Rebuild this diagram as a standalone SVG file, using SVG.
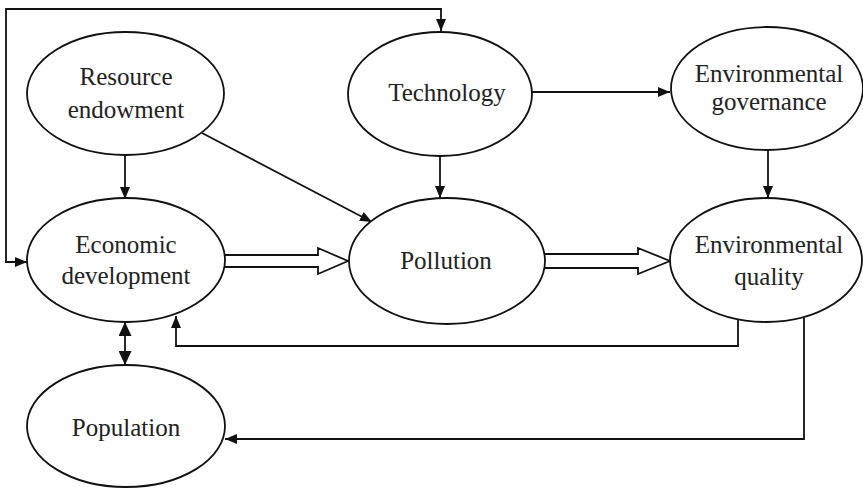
<svg xmlns="http://www.w3.org/2000/svg" width="863" height="488" viewBox="0 0 863 488">
<style>
  .node ellipse { fill: #ffffff; stroke: #111111; stroke-width: 1.8; }
  .node text { font-family: "Liberation Serif", "Times New Roman", serif; font-size: 25px; fill: #222222; text-anchor: middle; }
  .conn { fill: none; stroke: #111111; stroke-width: 1.8; }
  .arr { marker-end: url(#ah); }
  .bi { marker-start: url(#ah); marker-end: url(#ah); }
  .bibig { marker-start: url(#ahb); marker-end: url(#ahb); }
  .hollow { fill: #ffffff; stroke: #111111; stroke-width: 1.8; stroke-linejoin: miter; }
</style>
<defs>
  <marker id="ah" viewBox="0 0 12 10" refX="12" refY="5" markerWidth="12" markerHeight="10" markerUnits="userSpaceOnUse" orient="auto-start-reverse">
    <path d="M0,0 L12,5 L0,10 Z" fill="#111111"/>
  </marker>
  <marker id="ahb" viewBox="0 0 14 13" refX="14" refY="6.5" markerWidth="14" markerHeight="13" markerUnits="userSpaceOnUse" orient="auto-start-reverse">
    <path d="M0,0 L14,6.5 L0,13 Z" fill="#111111"/>
  </marker>
</defs>
<rect width="863" height="488" fill="#ffffff"/>
<g id="connectors">
  <path class="conn bi" d="M27,262 H6 V9 H441 V31"/>
  <path class="conn arr" d="M125,155 V199"/>
  <path class="conn arr" d="M202,133 L372,222"/>
  <path class="conn arr" d="M440,156 V198"/>
  <path class="conn arr" d="M532,92 H670"/>
  <path class="conn arr" d="M768,150 V198"/>
  <path class="hollow" d="M225,255 H318 V248 L348,261 L318,274 V267 H225"/>
  <path class="hollow" d="M545,254 H638 V248 L670,261 L638,274 V268 H545"/>
  <path class="conn arr" d="M738,318 V346 H176 V316"/>
  <path class="conn arr" d="M804,318 V439 H225"/>
  <path class="conn bibig" d="M125,322 V365"/>
</g>
<g id="resource" class="node">
  <ellipse cx="125.5" cy="93.5" rx="98.5" ry="61.5"/>
  <text x="126" y="85">Resource</text>
  <text x="126" y="118">endowment</text>
</g>
<g id="technology" class="node">
  <ellipse cx="440" cy="94" rx="92" ry="62"/>
  <text x="447" y="101">Technology</text>
</g>
<g id="governance" class="node">
  <ellipse cx="767" cy="88.5" rx="96" ry="61.5"/>
  <text x="769" y="82">Environmental</text>
  <text x="769" y="110">governance</text>
</g>
<g id="economic" class="node">
  <ellipse cx="126" cy="260" rx="99" ry="62"/>
  <text x="126" y="253">Economic</text>
  <text x="126" y="284">development</text>
</g>
<g id="pollution" class="node">
  <ellipse cx="447" cy="261" rx="98" ry="63"/>
  <text x="446" y="269">Pollution</text>
</g>
<g id="quality" class="node">
  <ellipse cx="766" cy="260" rx="96" ry="62"/>
  <text x="769" y="253">Environmental</text>
  <text x="769" y="285">quality</text>
</g>
<g id="population" class="node">
  <ellipse cx="126" cy="426" rx="99" ry="61"/>
  <text x="126" y="436">Population</text>
</g>
</svg>
